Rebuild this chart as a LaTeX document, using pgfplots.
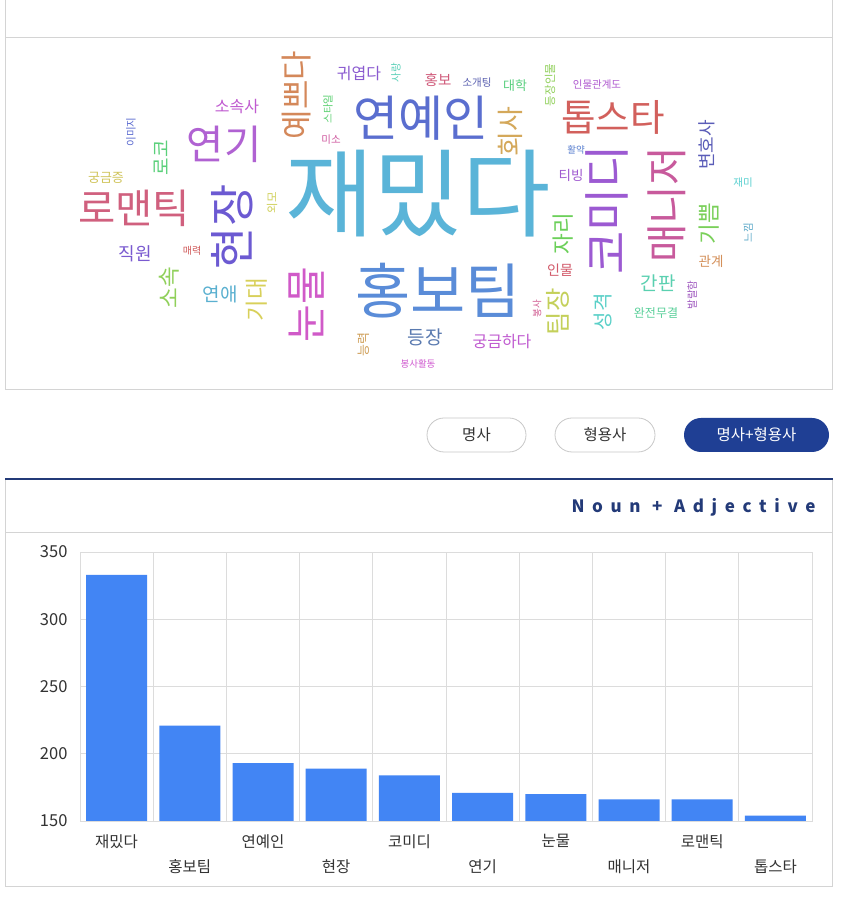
\documentclass[border=0pt]{standalone}
\usepackage{fontspec}
\setmainfont{Noto Sans CJK KR}
\usepackage{pgfplots}
\usepackage{pgfplotstable}
\pgfplotsset{compat=1.18}
\definecolor{panelgray}{HTML}{D4D4D4}
\definecolor{gridgray}{HTML}{DCDCDC}
\definecolor{btngray}{HTML}{C8C8C8}
\definecolor{navy}{HTML}{1F3F94}
\definecolor{hdrnavy}{HTML}{233A78}
\definecolor{barblue}{HTML}{4285F4}
\definecolor{labgray}{HTML}{333333}
\definecolor{w1}{HTML}{5AB4D8}
\definecolor{w2}{HTML}{5A8CD8}
\definecolor{w3}{HTML}{5A6ECF}
\definecolor{w4}{HTML}{D2605C}
\definecolor{w5}{HTML}{D0607E}
\definecolor{w6}{HTML}{B062D2}
\definecolor{w7}{HTML}{D4885A}
\definecolor{w8}{HTML}{6C5AD2}
\definecolor{w9}{HTML}{D05AC8}
\definecolor{w10}{HTML}{9C5AD2}
\definecolor{w11}{HTML}{C85A9C}
\definecolor{w12}{HTML}{D4A85A}
\definecolor{w13}{HTML}{6CD05A}
\definecolor{w14}{HTML}{C4D05A}
\definecolor{w15}{HTML}{5AD0C8}
\definecolor{w16}{HTML}{D25A6A}
\definecolor{w17}{HTML}{5A5CB8}
\definecolor{w18}{HTML}{5AD0D0}
\definecolor{w19}{HTML}{7AD05A}
\definecolor{w20}{HTML}{5AA8C8}
\definecolor{w21}{HTML}{D4905A}
\definecolor{w22}{HTML}{5AD0B0}
\definecolor{w23}{HTML}{A05AC0}
\definecolor{w24}{HTML}{5AD09A}
\definecolor{w25}{HTML}{B05AD0}
\definecolor{w26}{HTML}{5A80D0}
\definecolor{w27}{HTML}{A05AD0}
\definecolor{w28}{HTML}{5AD080}
\definecolor{w29}{HTML}{5A60B0}
\definecolor{w30}{HTML}{D05A7A}
\definecolor{w31}{HTML}{8A5AD0}
\definecolor{w32}{HTML}{5AD0B8}
\definecolor{w33}{HTML}{90D05A}
\definecolor{w34}{HTML}{5AD070}
\definecolor{w35}{HTML}{D05AA0}
\definecolor{w36}{HTML}{C05AD0}
\definecolor{w37}{HTML}{5A6AD0}
\definecolor{w38}{HTML}{5AD07A}
\definecolor{w39}{HTML}{D0C45A}
\definecolor{w40}{HTML}{D0D05A}
\definecolor{w41}{HTML}{7A5AD0}
\definecolor{w42}{HTML}{D05A5A}
\definecolor{w43}{HTML}{90D05A}
\definecolor{w44}{HTML}{5AB0D0}
\definecolor{w45}{HTML}{D8D05A}
\definecolor{w46}{HTML}{5A7AB0}
\definecolor{w47}{HTML}{C05AD0}
\definecolor{w48}{HTML}{D05AD0}
\definecolor{w49}{HTML}{D0A05A}
\definecolor{w50}{HTML}{D05A90}

% one word of the cloud: x, y (pixels from top-left), size, rotation, colour, text
\newcommand\cloudword[6]{\addplot[draw=none, mark=none, forget plot,
  nodes near coords={#6},
  nodes near coords style={anchor=center, inner sep=0pt, rotate=#4, text=#5,
    font=\fontsize{#3}{#3}\selectfont}]
  coordinates {(#1,#2)};}

\pgfplotstableread{
i v
0 333
1 221
2 193
3 189
4 184
5 171
6 170
7 166
8 166
9 154
}\bars

\begin{document}
\begin{tikzpicture}[x=1pt,y=1pt]
\path[use as bounding box, fill=white] (0,0) rectangle (850,902);
% top panel
\draw[panelgray, line width=1pt] (5.5,905) -- (5.5,512.5) -- (832.5,512.5) -- (832.5,905);
\draw[panelgray, line width=1pt] (5.5,864.5) -- (832.5,864.5);
% buttons
\draw[btngray, line width=0.8pt, rounded corners=17pt, fill=white] (427,450) rectangle (526,484);
\node[text=labgray, font=\fontsize{15.5}{18}\selectfont] at (476.5,467) {명사};
\draw[btngray, line width=0.8pt, rounded corners=17pt, fill=white] (555,450) rectangle (655,484);
\node[text=labgray, font=\fontsize{15.5}{18}\selectfont] at (605,467) {형용사};
\fill[navy, rounded corners=17pt] (684,450) rectangle (829,484);
\node[text=white, font=\fontsize{15.5}{18}\selectfont] at (756.5,467) {명사+형용사};
% bottom panel
\draw[panelgray, line width=1pt] (5.5,423) -- (5.5,15.5) -- (832.5,15.5) -- (832.5,423);
\draw[panelgray, line width=1pt] (5.5,369.5) -- (832.5,369.5);
\draw[hdrnavy, line width=2pt] (5,423) -- (833,423);
\node[anchor=east, text=hdrnavy, font=\fontsize{17}{20}\selectfont\bfseries\addfontfeature{LetterSpace=45}] at (819,395) {Noun + Adjective};

% word cloud
\begin{axis}[at={(0pt,0pt)}, anchor=south west, scale only axis,
  width=850pt, height=902pt, hide axis, clip=false,
  xmin=0, xmax=850, ymin=0, ymax=902, y dir=reverse]
\cloudword{418}{194}{96}{0}{w1}{재밌다}
\cloudword{438}{291}{60}{0}{w2}{홍보팀}
\cloudword{421}{118}{49}{0}{w3}{연예인}
\cloudword{613}{117}{37.5}{0}{w4}{톱스타}
\cloudword{134}{208}{40.5}{0}{w5}{로맨틱}
\cloudword{224}{144}{40.5}{0}{w6}{연기}
\cloudword{297}{95}{32}{90}{w7}{예쁘다}
\cloudword{232}{227}{46}{90}{w8}{현장}
\cloudword{307}{305}{41}{90}{w9}{눈물}
\cloudword{607}{210}{47}{90}{w10}{코미디}
\cloudword{667}{205}{42}{90}{w11}{매니저}
\cloudword{510}{132}{27}{90}{w12}{회사}
\cloudword{563}{234}{22.5}{90}{w13}{자리}
\cloudword{558}{312}{25.5}{90}{w14}{팀장}
\cloudword{603}{312}{20}{90}{w15}{성격}
\cloudword{560}{270}{14}{0}{w16}{인물}
\cloudword{707}{145}{18}{90}{w17}{변호사}
\cloudword{743}{183}{10.5}{0}{w18}{재미}
\cloudword{709}{224}{22.5}{90}{w19}{기쁨}
\cloudword{748}{233}{10.5}{90}{w20}{느낌}
\cloudword{711}{261}{13.5}{0}{w21}{관계}
\cloudword{658}{283}{19}{0}{w22}{간판}
\cloudword{692}{295}{10.5}{90}{w23}{발랄함}
\cloudword{656}{313}{12}{0}{w24}{완전무결}
\cloudword{597}{85}{10.5}{0}{w25}{인물관계도}
\cloudword{576}{150}{9.5}{0}{w26}{활약}
\cloudword{571}{175}{13.5}{0}{w27}{티빙}
\cloudword{515}{86}{13}{0}{w28}{대학}
\cloudword{477}{83}{10.5}{0}{w29}{소개팅}
\cloudword{438}{80}{14.5}{0}{w30}{홍보}
\cloudword{359}{74}{16}{0}{w31}{귀엽다}
\cloudword{396}{73}{10.5}{90}{w32}{사랑}
\cloudword{550}{85}{11.5}{90}{w33}{등장인물}
\cloudword{328}{109}{10.5}{90}{w34}{스타일}
\cloudword{331}{140}{10.5}{0}{w35}{미소}
\cloudword{237}{107}{16}{0}{w36}{소속사}
\cloudword{131}{132}{10.5}{90}{w37}{이미지}
\cloudword{161}{158}{19}{90}{w38}{로코}
\cloudword{106}{178}{13}{0}{w39}{궁금증}
\cloudword{272}{203}{11.5}{90}{w40}{외모}
\cloudword{135}{254}{18}{0}{w41}{직원}
\cloudword{192}{251}{10}{0}{w42}{매력}
\cloudword{169}{288}{22.5}{90}{w43}{소속}
\cloudword{220}{294}{19}{0}{w44}{연애}
\cloudword{257}{300}{23.5}{90}{w45}{기대}
\cloudword{425}{337}{19}{0}{w46}{등장}
\cloudword{502}{342}{16}{0}{w47}{궁금하다}
\cloudword{418}{364}{9.5}{0}{w48}{봉사활동}
\cloudword{364}{345}{13}{90}{w49}{능력}
\cloudword{537}{309}{9.5}{90}{w50}{봉사}
\end{axis}

% bar chart
\begin{axis}[at={(80pt,81pt)}, anchor=south west, scale only axis,
  width=732pt, height=269pt,
  xmin=-0.5, xmax=9.5, ymin=150, ymax=350,
  ytick={150,200,...,350}, xtick={0,...,9},
  xticklabels={재밌다,{\rule{0pt}{38pt}홍보팀},연예인,{\rule{0pt}{38pt}현장},코미디,{\rule{0pt}{38pt}연기},눈물,{\rule{0pt}{38pt}매니저},로맨틱,{\rule{0pt}{38pt}톱스타}},
  minor xtick={-0.5,0.5,...,9.5}, xminorgrids, ymajorgrids,
  grid style={draw=gridgray, line width=0.8pt},
  minor grid style={draw=gridgray, line width=0.8pt},
  axis line style={draw=gridgray, line width=0.8pt},
  major tick length=0pt, minor tick length=0pt,
  tick style={draw=none},
  xticklabel style={anchor=north, font=\fontsize{15.5}{18}\selectfont, text=labgray, yshift=-10pt},
  yticklabel style={font=\fontsize{16.5}{20}\selectfont, text=labgray, xshift=-9pt},
  /pgf/number format/assume math mode=true,
  ybar, bar width=61pt]
\addplot[fill=barblue, draw=none] table[x=i, y=v]{\bars};
\end{axis}
\end{tikzpicture}
\end{document}
